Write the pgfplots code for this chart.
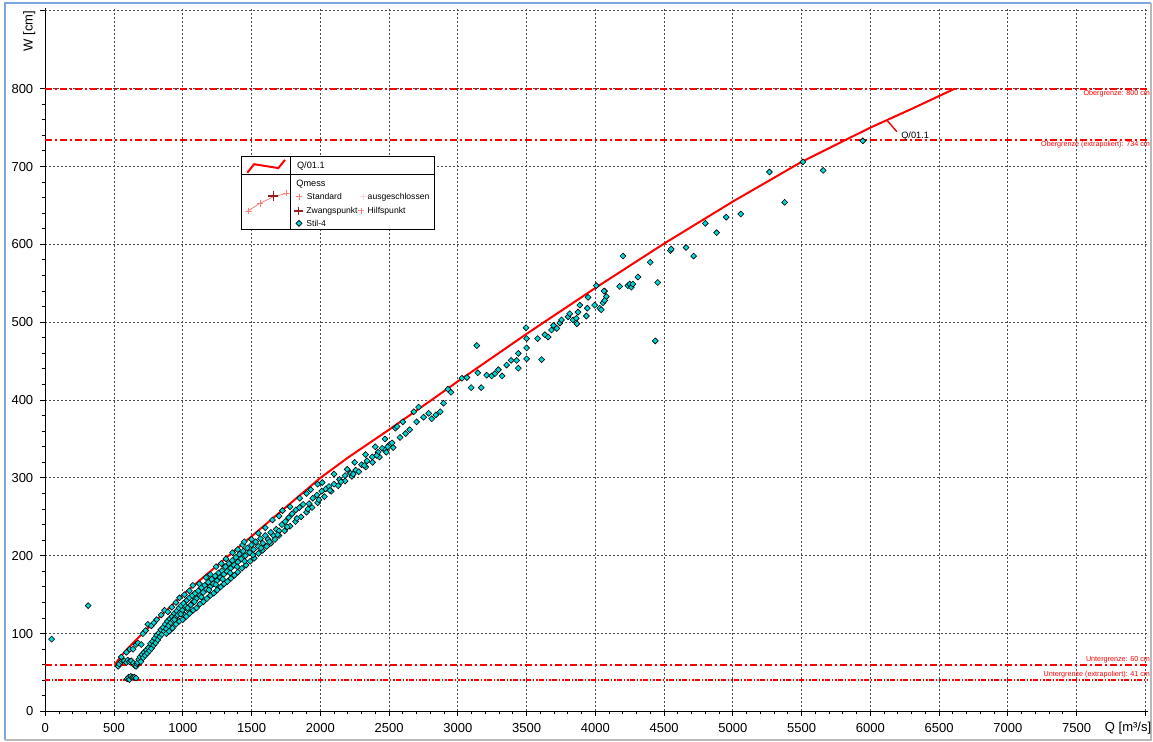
\documentclass[border=0pt]{standalone}
\usepackage{fontspec}
\setmainfont{Liberation Sans}
\usepackage{pgfplots}
\usepackage{pgfplotstable}
\pgfplotsset{compat=1.18}
\definecolor{cyanpt}{RGB}{0,215,215}
\definecolor{frameblue}{RGB}{125,165,225}
\definecolor{pinkred}{RGB}{255,125,125}
\definecolor{palepink}{RGB}{255,215,215}
\definecolor{darkred}{RGB}{150,30,30}

\pgfplotstableread{
Q W
505 60
550 71
600 81
700 99
800 116
900 133
1000 150
1200 180
1400 210
1500 225
1600 240
1800 270
2000 300
2200 326
2500 362
2800 399
3000 424
3500 485
4000 544
4500 601
5000 655
5500 706
6000 750
6300 774
6614 800
}\curve

\pgfplotstableread{
Q W
46 93
312 136
530 58
538 61
553 64
560 66
575 65
590 63
600 66
612 64
625 65
640 62
650 59
660 58
668 61
595 42
605 44
612 41
622 45
635 44
648 44
660 43
553 70
590 76
615 80
638 80
660 86
674 88
698 86
710 100
730 104
746 112
771 110
790 114
810 118
843 124
867 130
891 128
920 134
950 140
976 146
1012 150
1048 155
1073 162
1121 164
1169 172
1200 176
1242 186
1280 190
1314 196
1362 204
1400 208
1435 214
1447 218
1500 221
1550 229
1600 236
1652 246
1700 251
1725 258
1780 263
1850 274
1900 280
1930 285
1980 292
2014 294
2100 305
2196 311
2250 320
2329 330
2400 340
2470 350
2546 364
2600 372
2680 385
2715 391
672 63
680 67
688 70
695 64
703 73
712 69
718 76
726 72
735 79
742 75
750 82
758 78
765 87
772 81
780 90
788 85
795 94
802 88
810 98
818 92
826 101
833 96
840 105
848 99
856 108
864 103
872 112
880 106
888 116
896 110
905 119
913 114
922 122
930 117
938 126
946 121
955 129
963 124
972 133
980 127
988 136
997 130
1005 139
1013 124
1022 135
1030 143
1040 130
1048 146
1058 137
1068 149
1078 141
1090 152
1100 145
1112 155
1125 149
1136 159
1148 153
1160 162
1172 157
1185 166
1197 160
1210 170
1222 164
1235 174
1248 168
1260 178
1272 172
1285 181
1298 176
1310 186
1322 180
1335 190
1348 184
1360 194
1373 188
1386 198
1400 192
1412 202
1425 196
1440 206
1455 200
1470 210
1485 204
1500 214
1515 208
1530 218
1548 212
1565 222
1582 216
1600 226
1620 221
1640 230
1660 226
1680 234
1700 232
1720 240
1745 244
1770 249
1795 254
1822 259
1848 262
1875 266
1918 267
1945 274
1975 278
2010 283
2040 286
2063 289
2100 292
2140 298
2180 303
2220 306
2257 310
2300 317
2340 322
2378 327
2420 333
2450 338
2474 336
2500 342
2522 345
2558 366
2580 352
2620 357
2650 362
2700 372
2751 378
2788 383
2810 376
2840 381
2872 385
2896 396
2928 414
2950 410
880 100
900 103
925 107
950 112
975 116
1000 118
1025 122
1050 126
1075 130
1100 133
1125 138
1150 141
1175 145
1200 149
1225 152
1250 156
1275 160
1300 164
1325 167
1350 171
1375 175
1400 179
1430 184
1460 188
1490 193
1520 197
1550 203
1580 207
1610 212
1640 216
1670 221
1700 226
1740 232
1780 238
1820 244
1860 250
1900 256
1940 262
1980 268
2030 276
2080 283
2130 290
2180 296
2230 302
2280 308
2330 314
2380 320
2430 327
2480 333
2530 339
940 118
985 125
1035 133
1085 141
1135 147
1190 156
1240 163
1290 170
1345 178
1395 186
1450 193
1510 201
1570 210
1630 218
1690 227
1760 237
1830 248
1910 260
1990 272
2070 284
2150 295
2240 305
2320 316
2410 329
2490 340
3030 428
3066 429
3097 416
3138 470
3145 435
3170 416
3210 432
3246 431
3270 434
3295 439
3322 431
3355 445
3387 451
3428 451
3440 460
3440 441
3500 467
3500 453
3500 479
3496 493
3580 479
3609 452
3633 484
3657 481
3681 490
3696 496
3720 492
3742 499
3754 503
3802 507
3814 511
3838 503
3862 505
3874 513
3866 498
3887 522
3935 508
3942 518
3947 532
3995 522
4007 547
4032 518
4043 516
4056 525
4068 540
4080 533
4063 540
4068 528
4177 546
4201 585
4237 547
4250 549
4262 545
4273 549
4310 558
4399 577
4436 476
4454 551
4546 592
4552 594
4660 596
4715 585
4800 627
4882 615
4952 635
5058 639
5266 693
5377 654
5510 706
5657 695
5945 733
}\meas

\begin{document}
\begin{tikzpicture}
\useasboundingbox (-22.65pt,-15.25pt) rectangle (553.85pt,355.75pt);
\draw[frameblue, line width=0.9pt] (-20.2pt,-14.4pt) -- (-20.2pt,354.3pt) -- (552.9pt,354.3pt);
\draw[gray!55, line width=0.9pt] (552.9pt,354.3pt) -- (552.9pt,-14.4pt) -- (-20.2pt,-14.4pt);
\begin{axis}[
  scale only axis, width=551.4pt, height=351.5pt,
  xmin=0, xmax=8020, ymin=0, ymax=903,
  axis x line*=bottom, axis y line*=left,
  axis line style={black, line width=0.5pt},
  xtick={0,500,...,7500}, ytick={0,100,...,800},
  extra x ticks={8000}, extra x tick labels={},
  extra y ticks={900}, extra y tick labels={},
  minor x tick num=4, minor y tick num=4,
  grid=major,
  major grid style={black!70, dash pattern=on 1pt off 1pt, line width=0.5pt},
  tick align=outside, major tick length=2.5pt, minor tick length=1.5pt,
  tick style={black, line width=0.5pt},
  ticklabel style={font=\fontsize{6.5}{7}\selectfont},
  /pgf/number format/assume math mode=true,
  /pgf/number format/1000 sep={},
  clip=false,
]
% limit lines
\addplot[red, line width=1pt, dash pattern=on 3.5pt off 1.5pt on 1pt off 1.5pt, forget plot] coordinates {(0,800) (8020,800)};
\addplot[red, line width=1pt, dash pattern=on 3.5pt off 1.5pt on 1pt off 1.5pt, forget plot] coordinates {(0,734) (8020,734)};
\addplot[red, line width=1pt, dash pattern=on 3.5pt off 1.5pt on 1pt off 1.5pt, forget plot] coordinates {(0,60) (8020,60)};
\addplot[red, line width=1pt, dash pattern=on 2.5pt off 0.8pt on 0.8pt off 0.8pt on 0.8pt off 0.8pt, forget plot] coordinates {(0,41) (8020,41)};
\node[anchor=north east, red, font=\fontsize{3.6}{4}\selectfont, inner sep=0.6pt] at (axis cs:8045,800) {Obergrenze: 800 cm};
\node[anchor=north east, red, font=\fontsize{3.6}{4}\selectfont, inner sep=0.6pt] at (axis cs:8045,734) {Obergrenze (extrapoliert): 734 cm};
\node[anchor=south east, red, font=\fontsize{3.6}{4}\selectfont, inner sep=0.6pt] at (axis cs:8045,60) {Untergrenze: 60 cm};
\node[anchor=south east, red, font=\fontsize{3.6}{4}\selectfont, inner sep=0.6pt] at (axis cs:8045,41) {Untergrenze (extrapoliert): 41 cm};
% measurements
\addplot[only marks, mark=square*, mark size=1.05pt,
  mark options={rotate=45, fill=cyanpt, draw=black, line width=0.3pt}] table[x=Q, y=W] {\meas};
% rating curve
\addplot[red, line width=1pt, mark=none] table[x=Q, y=W] {\curve};
\addplot[red, line width=0.7pt, forget plot] coordinates {(6118,760) (6193,744.7)};
\node[anchor=west, font=\fontsize{4.6}{5}\selectfont, inner sep=0.5pt] at (axis cs:6215,739) {Q/01.1};
% legend box
\draw[black, line width=0.5pt, fill=white] (axis cs:1428,618.5) rectangle (axis cs:2827,713.5);
\draw[black, line width=0.5pt] (axis cs:1428,690) -- (axis cs:2827,690);
\draw[black, line width=0.5pt] (axis cs:1780,618.5) -- (axis cs:1780,713.5);
\addplot[red, line width=1pt, forget plot] coordinates {(1469,692) (1518,703) (1695,698) (1743,708.5)};
\addplot[pinkred, line width=0.4pt, forget plot] coordinates {(1465,642) (1561,652.7) (1658,661.2) (1756,665.6)};
\addplot[only marks, mark=+, mark size=1.6pt, pinkred, line width=0.4pt, forget plot] coordinates {(1477,643) (1561,652.7) (1753,666)};
\addplot[only marks, mark=+, mark size=2.6pt, darkred, line width=0.7pt, forget plot] coordinates {(1658,662)};
\addplot[only marks, mark=+, mark size=1.6pt, pinkred, line width=0.5pt, forget plot] coordinates {(1847,661) (2296,643)};
\addplot[only marks, mark=+, mark size=1.6pt, palepink, line width=0.5pt, forget plot] coordinates {(2313,661)};
\addplot[only marks, mark=+, mark size=2.2pt, darkred, line width=0.7pt, forget plot] coordinates {(1840,643)};
\addplot[only marks, mark=square*, mark size=1.05pt, mark options={rotate=45, fill=cyanpt, draw=black, line width=0.3pt}, forget plot] coordinates {(1845,627)};
\node[anchor=west, font=\fontsize{4.6}{5}\selectfont, inner sep=0pt] at (axis cs:1828,701) {Q/01.1};
\node[anchor=west, font=\fontsize{4.6}{5}\selectfont, inner sep=0pt] at (axis cs:1823,678) {Qmess};
\node[anchor=west, font=\fontsize{4.3}{5}\selectfont, inner sep=0pt] at (axis cs:1900,661) {Standard};
\node[anchor=west, font=\fontsize{4.3}{5}\selectfont, inner sep=0pt] at (axis cs:2342,661) {ausgeschlossen};
\node[anchor=west, font=\fontsize{4.3}{5}\selectfont, inner sep=0pt] at (axis cs:1896,643) {Zwangspunkt};
\node[anchor=west, font=\fontsize{4.3}{5}\selectfont, inner sep=0pt] at (axis cs:2342,643) {Hilfspunkt};
\node[anchor=west, font=\fontsize{4.3}{5}\selectfont, inner sep=0pt] at (axis cs:1896,627) {Stil-4};
% axis labels
\node[anchor=north east, font=\fontsize{6.5}{7}\selectfont, inner sep=0pt] at ([yshift=-5.3pt]axis cs:8045,0) {Q [m³/s]};
\node[rotate=90, font=\fontsize{6.5}{7}\selectfont, inner sep=0pt] at ([xshift=-8pt]axis cs:0,874) {W [cm]};
\end{axis}
\end{tikzpicture}
\end{document}
